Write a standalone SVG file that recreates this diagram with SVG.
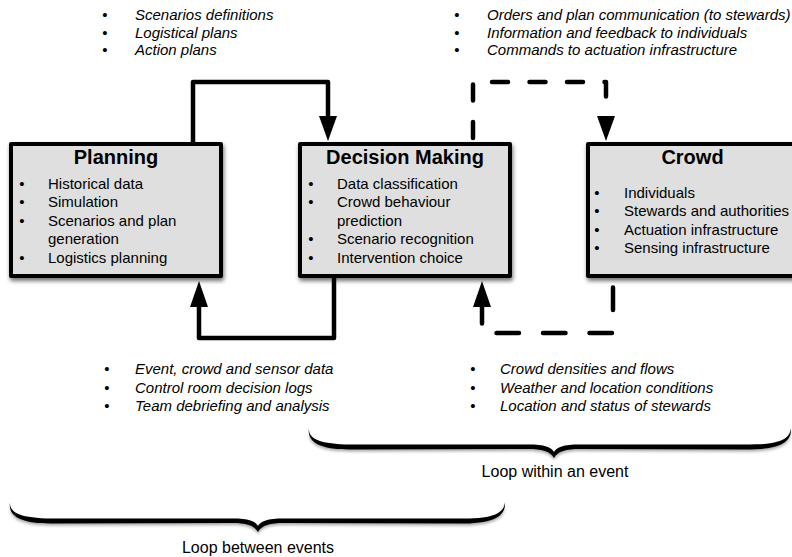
<svg xmlns="http://www.w3.org/2000/svg" width="792" height="557" viewBox="0 0 792 557">
<defs>
<filter id="sh" x="-10%" y="-10%" width="130%" height="140%">
<feDropShadow dx="1" dy="3" stdDeviation="2.2" flood-color="#000" flood-opacity="0.55"/>
</filter>
<filter id="bsh" x="-5%" y="-50%" width="110%" height="250%">
<feDropShadow dx="0" dy="2" stdDeviation="1.5" flood-color="#000" flood-opacity="0.35"/>
</filter>
<style>
.box{fill:#dfdfdf;stroke:#000;stroke-width:4;stroke-linejoin:round;filter:url(#sh)}
.title{font-family:"Liberation Sans",Arial,sans-serif;font-weight:bold;font-size:20px;text-anchor:middle;fill:#000}
.t{font-family:"Liberation Sans",Arial,sans-serif;font-size:15px;fill:#000}
.it{font-family:"Liberation Sans",Arial,sans-serif;font-size:15px;font-style:italic;fill:#000}
.bul{font-family:"Liberation Sans",Arial,sans-serif;font-size:15px;text-anchor:middle;fill:#000}
.lbl{font-family:"Liberation Sans",Arial,sans-serif;font-size:16px;text-anchor:middle;fill:#000}
.ln{fill:none;stroke:#000;stroke-width:4.5;stroke-linejoin:round}
.d1{stroke-dasharray:16 21.5;stroke-dashoffset:-4;stroke-linecap:round}
.d2{stroke-dasharray:22.5 24;stroke-dashoffset:-9.5;stroke-linecap:round}
.ah{fill:#000}
.brace{fill:#000;filter:url(#bsh)}
</style>
</defs>

<g id="connectors">
<path class="ln" d="M193,142 V82 H328 V118"/>
<polygon class="ah" points="319,116 337,116 328,141"/>
<path class="ln" d="M334,278 V338 H199 V306"/>
<polygon class="ah" points="190,307 208,307 199,281"/>
<path class="ln d1" d="M473,142 V82 H606 V118"/>
<polygon class="ah" points="597,116 615,116 606,141"/>
<path class="ln d2" d="M613,278 V333 H482 V307"/>
<polygon class="ah" points="473,307 491,307 482,281"/>
</g>

<g id="planning">
<rect class="box" x="11" y="144" width="210" height="132"/>
<text class="title" x="116" y="164">Planning</text>
<text class="bul" x="22" y="188.5">•</text><text class="t" x="48" y="188.5">Historical data</text>
<text class="bul" x="22" y="207">•</text><text class="t" x="48" y="207">Simulation</text>
<text class="bul" x="22" y="225.5">•</text><text class="t" x="48" y="225.5">Scenarios and plan</text>
<text class="t" x="48" y="244">generation</text>
<text class="bul" x="22" y="262.5">•</text><text class="t" x="48" y="262.5">Logistics planning</text>
</g>

<g id="decision-making">
<rect class="box" x="300" y="144" width="210" height="132"/>
<text class="title" x="405" y="164">Decision Making</text>
<text class="bul" x="311" y="188.5">•</text><text class="t" x="337" y="188.5">Data classification</text>
<text class="bul" x="311" y="207">•</text><text class="t" x="337" y="207">Crowd behaviour</text>
<text class="t" x="337" y="225.5">prediction</text>
<text class="bul" x="311" y="244">•</text><text class="t" x="337" y="244">Scenario recognition</text>
<text class="bul" x="311" y="262.5">•</text><text class="t" x="337" y="262.5">Intervention choice</text>
</g>

<g id="crowd">
<rect class="box" x="588" y="144" width="210" height="132"/>
<text class="title" x="692.5" y="164">Crowd</text>
<text class="bul" x="597" y="197.5">•</text><text class="t" x="624" y="197.5">Individuals</text>
<text class="bul" x="597" y="216">•</text><text class="t" x="624" y="216">Stewards and authorities</text>
<text class="bul" x="597" y="234.5">•</text><text class="t" x="624" y="234.5">Actuation infrastructure</text>
<text class="bul" x="597" y="253">•</text><text class="t" x="624" y="253">Sensing infrastructure</text>
</g>

<g id="plans-list">
<text class="bul" x="105" y="20">•</text><text class="it" x="135" y="20">Scenarios definitions</text>
<text class="bul" x="105" y="37.5">•</text><text class="it" x="135" y="37.5">Logistical plans</text>
<text class="bul" x="105" y="55">•</text><text class="it" x="135" y="55">Action plans</text>
</g>

<g id="orders-list">
<text class="bul" x="457" y="20">•</text><text class="it" x="487" y="20">Orders and plan communication (to stewards)</text>
<text class="bul" x="457" y="37.5">•</text><text class="it" x="487" y="37.5">Information and feedback to individuals</text>
<text class="bul" x="457" y="55">•</text><text class="it" x="487" y="55">Commands to actuation infrastructure</text>
</g>

<g id="data-list">
<text class="bul" x="107" y="374">•</text><text class="it" x="135" y="374">Event, crowd and sensor data</text>
<text class="bul" x="107" y="392.5">•</text><text class="it" x="135" y="392.5">Control room decision logs</text>
<text class="bul" x="107" y="411">•</text><text class="it" x="135" y="411">Team debriefing and analysis</text>
</g>

<g id="sensing-list">
<text class="bul" x="473" y="374">•</text><text class="it" x="500" y="374">Crowd densities and flows</text>
<text class="bul" x="473" y="392.5">•</text><text class="it" x="500" y="392.5">Weather and location conditions</text>
<text class="bul" x="473" y="411">•</text><text class="it" x="500" y="411">Location and status of stewards</text>
</g>

<g id="loop-within">
<path class="brace" d="M309,428 C308,439 320,444 350,444.5 L528,444.5 C545,444.5 551,447 554,452 C557,447 563,444.5 580,444.5 L750,444.5 C780,444.5 790,439 791,428 C792,441 782,449 750,449.5 L580,449 C566,449 558,451 554,458 C550,451 542,449 528,449 L350,449.5 C317,449.5 307,441 309,428 Z"/>
<text class="lbl" x="555" y="477">Loop within an event</text>
</g>

<g id="loop-between">
<path class="brace" d="M10,502 C9,513 21,518 51,518.5 L232,518.5 C249,518.5 255,521 258,526 C261,521 267,518.5 284,518.5 L464,518.5 C494,518.5 504,513 505,502 C506,515 496,523 464,523.5 L284,523 C270,523 262,525 258,532 C254,525 246,523 232,523 L51,523.5 C18,523.5 8,515 10,502 Z"/>
<text class="lbl" x="258" y="553">Loop between events</text>
</g>
</svg>
